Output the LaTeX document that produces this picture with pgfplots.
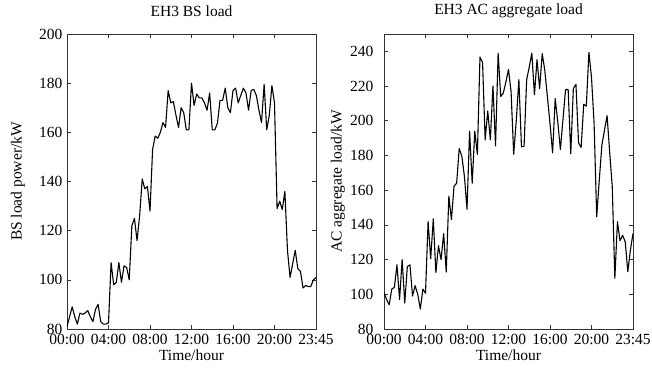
\documentclass[border=0pt]{standalone}
\usepackage{pgfplots}
\pgfplotsset{compat=1.18}
\usepackage{pgfplotstable}
\usepackage{fontspec}
\setmainfont{Liberation Serif}

\pgfplotstableread{
x y
0 81
1 85
2 89
3 85
4 82
5 86.5
6 86
7 86.5
8 87.5
9 85
10 83
11 88
12 90
13 83
14 82
15 82
16 82.5
17 107
18 98
19 99
20 107
21 99
22 105.7
23 105
24 100
25 122
26 125
27 116
28 126
29 141
30 137
31 138
32 128
33 153
34 158.5
35 157.6
36 160
37 164
38 162
39 177
40 172
41 172.5
42 167
43 162
44 170
45 168
46 161
47 161
48 180
49 171
50 175.6
51 174
52 174
53 172
54 169
55 176
56 161
57 161
58 163.7
59 173
60 173
61 178
62 170
63 168
64 177
65 178
66 172
67 175
68 178
69 176
70 169
71 177
72 177.5
73 175
74 169
75 164
76 179.5
77 161
78 167
79 179
80 172
81 129
82 132
83 128.6
84 136
85 112
86 101
87 106.5
88 112
89 104.5
90 103.5
91 96.7
92 97.7
93 97.3
94 97.3
95 100
96 101
}\bsload

\pgfplotstableread{
x y
0 101
1 97
2 94
3 103
4 104
5 117
6 97
7 120
8 95
9 116
10 117
11 99
12 105
13 100
14 91.5
15 103
16 100.6
17 142
18 120.5
19 143.5
20 112.5
21 128
22 120
23 135
24 112.8
25 156.6
26 143
27 162.3
28 164
29 184
30 179.6
31 168
32 149
33 194
34 164
35 194
36 180.6
37 236.7
38 233.5
39 189
40 205.6
41 189
42 220
43 185.5
44 239
45 214
46 216
47 222.4
48 229.5
49 216.6
50 180.7
51 200.3
52 223.7
53 185
54 185.3
55 223.7
56 231
57 239
58 215
59 235.2
60 218.5
61 238.7
62 229
63 213.7
64 198.4
65 181.5
66 212.8
67 199.3
68 183.4
69 200.7
70 218
71 218
72 181
73 218.5
74 221
75 187.3
76 184.6
77 209.5
78 208.4
79 239.4
80 225
81 198.4
82 144.7
83 165.8
84 186
85 194.5
86 203
87 182
88 162
89 109.2
90 141.8
91 130.9
92 134
93 130.3
94 113
95 125.5
96 135
}\acload

\newcommand{\chartfont}{\fontsize{15.5}{18}\selectfont}

\pgfplotsset{
  myaxis/.style={
    scale only axis,
    width=249pt, height=295pt,
    xmin=0, xmax=96,
    xtick={0,16,32,48,64,80,96},
    xticklabels={00:00,04:00,08:00,12:00,16:00,20:00,23:45},
    tick align=inside,
    major tick length=4pt,
    axis line style={line width=0.8pt, black!80},
    every tick/.style={line width=0.6pt, black!80},
    tick label style={font=\chartfont},
    /pgf/number format/assume math mode=true,
    xticklabel style={yshift=-2pt},
    every axis title shift=0pt,
    every axis title/.style={font=\chartfont, at={(axis description cs:0.5,1)}, anchor=center, yshift=23pt},
    xlabel={Time/hour},
    every axis x label/.style={font=\chartfont, at={(axis description cs:0.5,0)}, anchor=center, yshift=-26pt},
    every axis y label/.style={font=\chartfont, at={(axis description cs:0,0.5)}, rotate=90, anchor=center},
  }
}

\begin{document}
\begin{tikzpicture}[x=1pt,y=1pt]
\path[use as bounding box] (0,0) rectangle (652,367);
\begin{axis}[myaxis,
  at={(67pt,38pt)}, anchor=south west,
  ymin=80, ymax=200, ytick={80,100,...,200},
  title={EH3 BS load},
  ylabel={BS load power/kW},
  ylabel style={yshift=49pt},
  yticklabel style={/pgf/number format/assume math mode=true, xshift=-1pt}]
\addplot[black, line width=1.1pt, line join=round] table[x=x,y=y] {\bsload};
\end{axis}
\begin{axis}[myaxis,
  at={(384pt,38pt)}, anchor=south west,
  ymin=80, ymax=250, ytick={80,100,...,240},
  title={EH3 AC aggregate load},
  ylabel={AC aggregate load/kW},
  ylabel style={yshift=46pt},
  yticklabel style={/pgf/number format/assume math mode=true, xshift=-7pt}]
\addplot[black, line width=1.1pt, line join=round] table[x=x,y=y] {\acload};
\end{axis}
\end{tikzpicture}
\end{document}
